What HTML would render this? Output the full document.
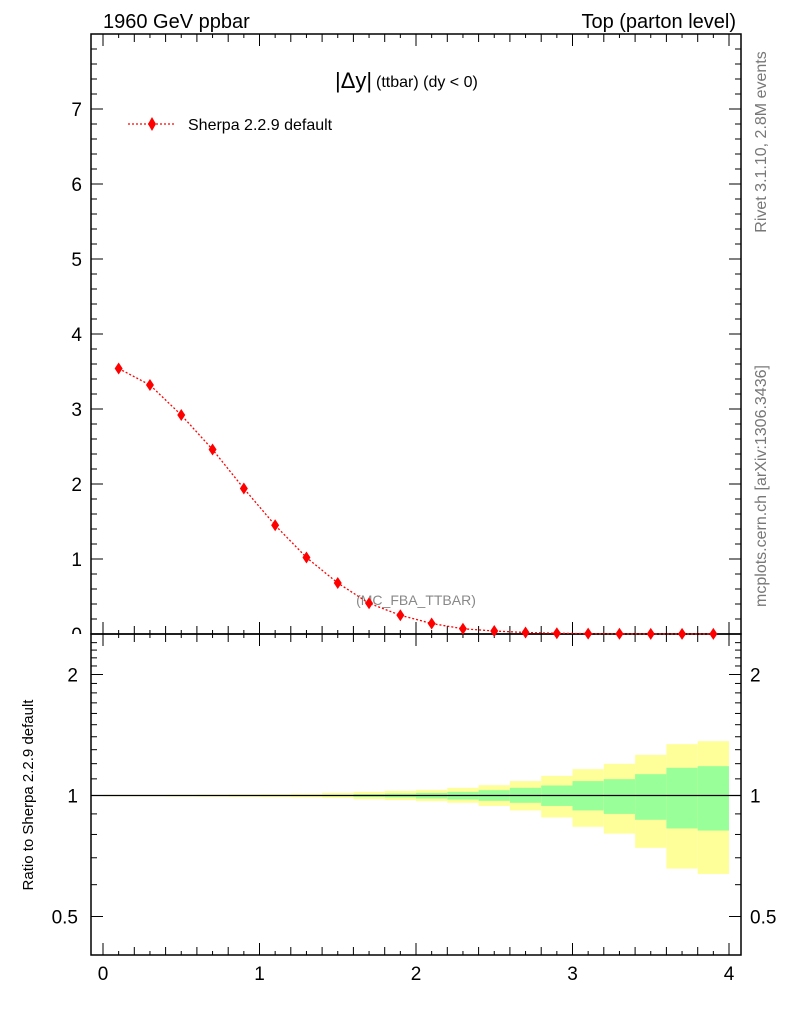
<!DOCTYPE html>
<html><head><meta charset="utf-8"><style>
body{margin:0;background:#fff;}
svg{display:block;font-family:"Liberation Sans",Arial,sans-serif;}
</style></head><body>
<svg id="chart" width="786" height="1024" viewBox="0 0 786 1024">
<defs><clipPath id="mainclip"><rect x="0" y="0" width="786" height="634"/></clipPath></defs>
<text x="103" y="28" font-size="20">1960 GeV ppbar</text>
<text x="736" y="28" font-size="20" text-anchor="end">Top (parton level)</text>
<text transform="translate(766,142) rotate(-90)" font-size="16" fill="#777" text-anchor="middle">Rivet 3.1.10,  2.8M events</text>
<text transform="translate(766,486) rotate(-90)" font-size="16" fill="#777" text-anchor="middle">mcplots.cern.ch [arXiv:1306.3436]</text>
<text x="335" y="88" font-size="22">|Δy|</text>
<text x="376" y="87" font-size="16">(ttbar) (dy &lt; 0)</text>
<text x="416" y="605" font-size="14" fill="#888" text-anchor="middle">(MC_FBA_TTBAR)</text>
<text transform="translate(33,795) rotate(-90)" font-size="15" text-anchor="middle">Ratio to Sherpa 2.2.9 default</text>
<g>
<line x1="128" y1="124" x2="176" y2="124" stroke="red" stroke-width="1.3" stroke-dasharray="2,2"/>
<path d="M152,117 L156,124 L152,131 L148,124 Z" fill="red"/>
<text x="188" y="130" font-size="16">Sherpa 2.2.9 default</text>
</g>
<g id="bands"></g>
<g id="axes"></g>
<g id="series"></g>
</svg>
<script>
const xCenters=[0.1,0.3,0.5,0.7,0.9,1.1,1.3,1.5,1.7,1.9,2.1,2.3,2.5,2.7,2.9,3.1,3.3,3.5,3.7,3.9];
const yValues=[3.54,3.32,2.92,2.46,1.94,1.45,1.02,0.68,0.41,0.25,0.14,0.07,0.04,0.02,0.01,0.005,0.003,0.002,0.001,0.001];
const binEdges=[0,0.2,0.4,0.6,0.8,1.0,1.2,1.4,1.6,1.8,2.0,2.2,2.4,2.6,2.8,3.0,3.2,3.4,3.6,3.8,4.0];
const yellowUp=[1.004,1.004,1.005,1.006,1.007,1.008,1.010,1.015,1.021,1.027,1.033,1.045,1.061,1.086,1.119,1.163,1.199,1.262,1.342,1.365];
const yellowDn=[0.996,0.996,0.995,0.994,0.993,0.992,0.990,0.987,0.979,0.974,0.968,0.959,0.942,0.918,0.882,0.836,0.804,0.741,0.658,0.638];
const greenUp=[1.002,1.002,1.002,1.002,1.003,1.003,1.003,1.004,1.008,1.011,1.015,1.021,1.031,1.045,1.059,1.086,1.098,1.130,1.172,1.183];
const greenDn=[0.998,0.998,0.998,0.998,0.997,0.997,0.997,0.996,0.992,0.989,0.983,0.977,0.970,0.959,0.942,0.918,0.900,0.870,0.828,0.818];
const mainTicks=[1,2,3,4,5,6,7];
const ratioTicks=[0.5,1,2];
const xTicks=[0,1,2,3,4];

const NS="http://www.w3.org/2000/svg";
const L=91,R=741,T=34,MB=634,RB=955;
const X=v=>103+v*156.5;
const Y=v=>MB-(v/8)*(MB-T);
const RY=v=>795.5-Math.log10(v)*402;
function mk(tag,attrs,parent){const e=document.createElementNS(NS,tag);for(const k in attrs)e.setAttribute(k,attrs[k]);parent.appendChild(e);return e;}
const bands=document.getElementById('bands'),axes=document.getElementById('axes'),series=document.getElementById('series');

for(let i=0;i<yellowUp.length;i++){
  const x0=X(binEdges[i]),x1=X(binEdges[i+1]);
  const y=mk('rect',{x:x0,y:RY(yellowUp[i]),width:x1-x0,height:RY(yellowDn[i])-RY(yellowUp[i]),fill:'#ffff99'},bands);
  
  
  const g=mk('rect',{x:x0,y:RY(greenUp[i]),width:x1-x0,height:RY(greenDn[i])-RY(greenUp[i]),fill:'#99ff99'},bands);
  
  
}
const ref=mk('line',{x1:L,x2:R,y1:RY(1),y2:RY(1),stroke:'#000','stroke-width':1.3},bands);



const f1=mk('rect',{x:L,y:T,width:R-L,height:MB-T,fill:'none',stroke:'#000','stroke-width':1.5},axes);


const f2=mk('rect',{x:L,y:MB,width:R-L,height:RB-MB,fill:'none',stroke:'#000','stroke-width':1.5},axes);



for(let k=0;k<=40;k++){
  const v=k/10,x=X(v);
  if(x>R)break;
  const len=(k%10===0)?12:(k%2===0?8:4);
  [[MB,-1],[T,1],[RB,-1],[MB,1]].forEach(([y0,d])=>{mk('line',{x1:x,x2:x,y1:y0,y2:y0+d*len,stroke:'#000','stroke-width':1},axes);});
}
xTicks.forEach(v=>{const t=mk('text',{x:X(v),y:980,'font-size':19,'text-anchor':'middle'},axes);t.textContent=v;

});

for(let k=0;k<=40;k++){
  const v=k/5,y=Y(v);
  const len=(k%5===0)?12:6;
  mk('line',{x1:L,x2:L+len,y1:y,y2:y,stroke:'#000','stroke-width':1},axes);
  mk('line',{x1:R,x2:R-len,y1:y,y2:y,stroke:'#000','stroke-width':1},axes);
}
mainTicks.forEach(v=>{const t=mk('text',{x:82,y:Y(v)+7,'font-size':19,'text-anchor':'end'},axes);t.textContent=v;

});
const z=mk('text',{x:82,y:641,'font-size':19,'text-anchor':'end','clip-path':'url(#mainclip)'},axes);z.textContent='0';



for(let v=0.4;v<=2.5;v+=0.1){
  const vv=Math.round(v*10)/10;const y=RY(vv);
  if(y<MB||y>RB)continue;
  const len=ratioTicks.includes(vv)?12:6;
  mk('line',{x1:L,x2:L+len,y1:y,y2:y,stroke:'#000','stroke-width':1},axes);
  mk('line',{x1:R,x2:R-len,y1:y,y2:y,stroke:'#000','stroke-width':1},axes);
}
ratioTicks.forEach(v=>{
  const a=mk('text',{x:78,y:RY(v)+7,'font-size':19,'text-anchor':'end'},axes);a.textContent=v;
  
  
  const b=mk('text',{x:750,y:RY(v)+7,'font-size':19},axes);b.textContent=v;
  
  
});

const pts=xCenters.map((x,i)=>X(x)+','+Y(yValues[i])).join(' ');
const pl=mk('polyline',{points:pts,fill:'none',stroke:'red','stroke-width':1.3,'stroke-dasharray':'2,2'},series);


xCenters.forEach((x,i)=>{
  const cx=X(x),cy=Y(yValues[i]);
  const d=mk('path',{d:`M${cx},${cy-6}L${cx+4},${cy}L${cx},${cy+6}L${cx-4},${cy}Z`,fill:'red'},series);
  
  
});
</script>
</body></html>
